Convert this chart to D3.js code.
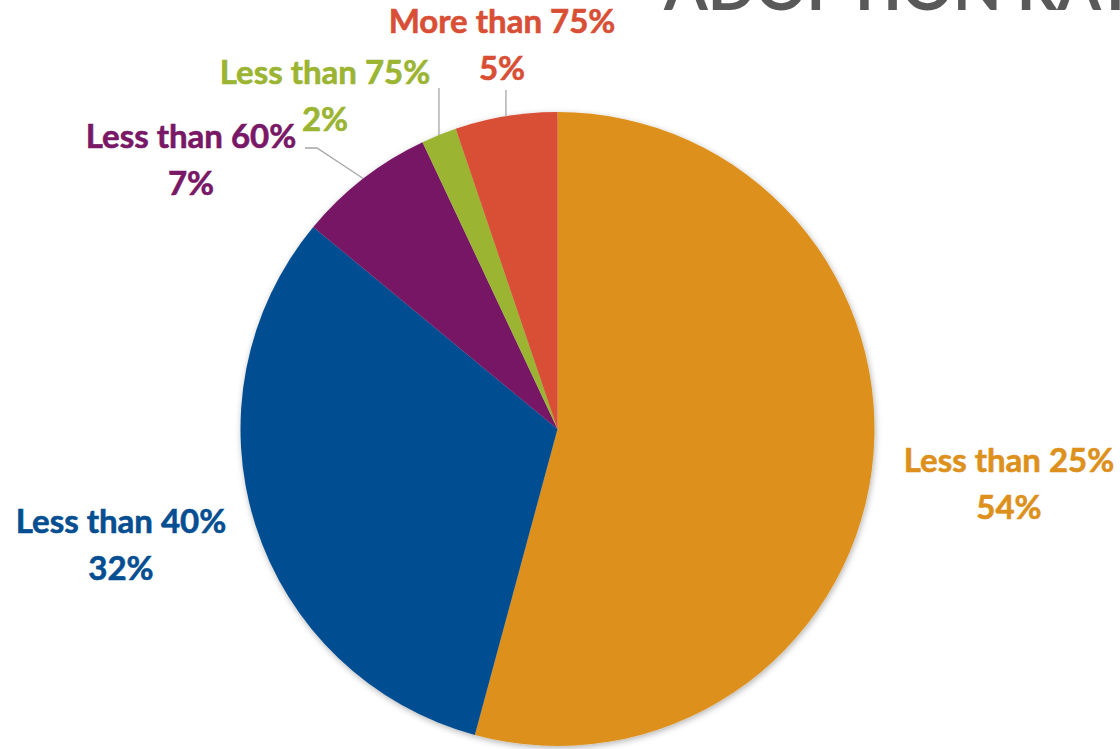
<!DOCTYPE html>
<html>
<head>
<meta charset="utf-8">
<script src="https://cdn.jsdelivr.net/npm/d3@7"></script>
<style>
  body { margin: 0; background: #fff; }
  svg { display: block; }
  .label { font-family: Lato, "Open Sans", sans-serif; font-weight: 700; }
</style>
</head>
<body>
<svg width="1120" height="749"></svg>
<script>
// data (clockwise from 12 o'clock)
const categories = ["Less than 25%", "Less than 40%", "Less than 60%", "Less than 75%", "More than 75%"];
const values = [54.2, 31.8, 7.0, 1.8, 5.2];
const shownPct = ["54%", "32%", "7%", "2%", "5%"];
const colors = ["#DD911C", "#044E91", "#781866", "#9BB533", "#D84F35"];

// label layout (Excel best-fit placement)
const labelAt = [[1009, 472], [121, 533], [191, 148], [325, 84], [502, 33]];
const leaderFrom = [null, null, [[305, 148], [317, 148]], [[438.7, 88]], [[505.7, 90]]];

const width = 1120, height = 749;
const cx = 557.5, cy = 429, radius = 317;

const svg = d3.select("svg");

const defs = svg.append("defs");
const shadow = defs.append("filter")
    .attr("id", "shadow")
    .attr("x", "-10%").attr("y", "-10%")
    .attr("width", "120%").attr("height", "120%");
shadow.append("feDropShadow")
    .attr("dx", 1).attr("dy", 2)
    .attr("stdDeviation", 3)
    .attr("flood-color", "#000")
    .attr("flood-opacity", 0.3);

// title (clipped by the top edge in the original)
svg.append("text")
    .attr("x", 664)
    .attr("y", 10)
    .attr("font-family", "Lato, 'Open Sans', sans-serif")
    .attr("font-weight", 700)
    .attr("font-size", 63)
    .attr("fill", "#595959")
    .text("ADOPTION RATE");

const rows = categories.map((c, i) => ({ name: c, value: values[i], pct: shownPct[i], color: colors[i], i }));

const pie = d3.pie()
    .sort(null)
    .value(d => d.value);

const arc = d3.arc()
    .innerRadius(0)
    .outerRadius(radius);

const arcs = pie(rows);

const g = svg.append("g")
    .attr("transform", `translate(${cx}, ${cy})`);

g.append("g")
    .attr("filter", "url(#shadow)")
    .selectAll("path")
    .data(arcs)
    .join("path")
    .attr("d", arc)
    .attr("fill", d => d.data.color);

// leader lines for the small slices
arcs.forEach(a => {
  const from = leaderFrom[a.data.i];
  if (!from) return;
  const mid = (a.startAngle + a.endAngle) / 2;
  const edge = [cx + radius * Math.sin(mid), cy - radius * Math.cos(mid)];
  const pts = from.slice();
  if (pts.length === 1) pts[0] = [edge[0], pts[0][1]];
  pts.push(edge);
  svg.append("path")
      .attr("d", d3.line()(pts))
      .attr("fill", "none")
      .attr("stroke", "#A6A6A6")
      .attr("stroke-width", 1.3);
});

// data labels
arcs.forEach(a => {
  const [x, y] = labelAt[a.data.i];
  const t = svg.append("text")
      .attr("class", "label")
      .attr("text-anchor", "middle")
      .attr("font-size", 33)
      .attr("fill", a.data.color)
      .attr("stroke", a.data.color)
      .attr("stroke-width", 0.6);
  t.append("tspan").attr("x", x).attr("y", y).text(a.data.name);
  t.append("tspan").attr("x", x).attr("y", y + 47).text(a.data.pct);
});
</script>
</body>
</html>
